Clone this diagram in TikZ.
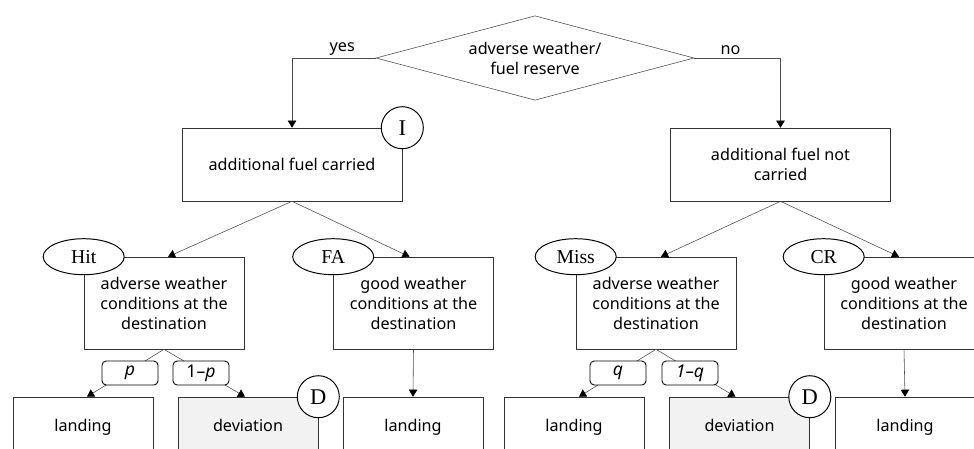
\documentclass[tikz,border=0pt]{standalone}
\usepackage{fontspec}
\setmainfont{Noto Sans}
\newfontfamily\tagfont{Liberation Serif}
\usetikzlibrary{arrows.meta,shapes.geometric,calc}
\begin{document}
\begin{tikzpicture}[x=0.025cm,y=-0.025cm,
	font=\fontsize{11.5}{14.2}\selectfont,
	box/.style={draw=black!80,fill=white,align=center,inner sep=0pt},
	bigbox/.style={box,minimum width=5.5cm,minimum height=1.825cm},
	midbox/.style={box,minimum width=4cm,minimum height=2.3cm},
	endbox/.style={box,minimum width=3.5cm,minimum height=1.5cm,text height=8.5pt,text depth=2.5pt},
	tag/.style={ellipse,draw=black,line width=0.7pt,fill=white,minimum width=2.025cm,minimum height=0.9cm,inner sep=0pt,font=\tagfont\fontsize{14}{14}\selectfont},
	badge/.style={circle,draw=black,line width=0.7pt,fill=white,minimum size=1.05cm,inner sep=0pt,font=\tagfont\fontsize{16}{16}\selectfont},
	prob/.style={draw=black,line width=0.6pt,fill=white,rounded corners=3pt,minimum width=1.4cm,minimum height=0.6cm,inner sep=0pt,font=\fontsize{12.5}{12.5}\selectfont},
	link/.style={draw=black!70,-{Triangle[width=6pt,length=5pt,color=black]}}]
	\clip (0,0) rectangle (974,448);
	\node[diamond,draw=black!70,aspect=2.55,minimum width=7.95cm,inner sep=0pt,align=center] (weather) at (535,58) {adverse weather/\\fuel reserve};
	\node[bigbox] (carried) at (292,164.5) {additional fuel carried};
	\node[bigbox] (notcarried) at (780.5,164.5) {additional fuel not\\carried};
	\node[midbox] (hitbox) at (164,303) {adverse weather\\conditions at the\\destination};
	\node[midbox] (fabox) at (413.5,303) {good weather\\conditions at the\\destination};
	\node[midbox] (missbox) at (656,303) {adverse weather\\conditions at the\\destination};
	\node[midbox] (crbox) at (904,303) {good weather\\conditions at the\\destination};
	\node[endbox] (land1) at (83,427) {landing};
	\node[endbox,fill=black!5] (dev1) at (248,427) {deviation};
	\node[endbox] (land2) at (413,427) {landing};
	\node[endbox] (land3) at (574,427) {landing};
	\node[endbox,fill=black!5] (dev2) at (739.5,427) {deviation};
	\node[endbox] (land4) at (905,427) {landing};
	\draw[link] (weather.west) -| node[pos=0.2,above,inner sep=2pt] (yes) {yes} (carried.north);
	\draw[link] (weather.east) -| node[pos=0.21,above,inner sep=2pt] (no) {no} (notcarried.north);
	\draw[link] (carried.south) -- ($(hitbox.north)+(4,0)$);
	\draw[link] (carried.south) -- ($(fabox.north)+(-4,0)$);
	\draw[link] (notcarried.south) -- ($(missbox.north)+(5,0)$);
	\draw[link] (notcarried.south) -- ($(crbox.north)+(-5,0)$);
	\draw[link] (hitbox.south) -- ($(land1.north)+(4,0)$);
	\draw[link] (hitbox.south) -- ($(dev1.north)+(-3,0)$);
	\draw[link] (fabox.south) -- (land2.north);
	\draw[link] (missbox.south) -- ($(land3.north)+(5,0)$);
	\draw[link] (missbox.south) -- ($(dev2.north)+(-4,0)$);
	\draw[link] (crbox.south) -- (land4.north);
	\node[tag] (hit) at (hitbox.north west) {Hit};
	\node[tag] (fa) at (fabox.north west) {FA};
	\node[tag] (miss) at (missbox.north west) {Miss};
	\node[tag] (cr) at (crbox.north west) {CR};
	\node[badge] (ibadge) at (carried.north east) {I};
	\node[badge] (dbadge1) at (dev1.north east) {D};
	\node[badge] (dbadge2) at (dev2.north east) {D};
	\node[prob] (p) at (130,373) {\itshape p};
	\node[prob] (notp) at (201,373) {1–{\itshape p}};
	\node[prob] (q) at (618,373) {\itshape q};
	\node[prob] (notq) at (690,373) {\itshape 1–q};
\end{tikzpicture}
\end{document}
